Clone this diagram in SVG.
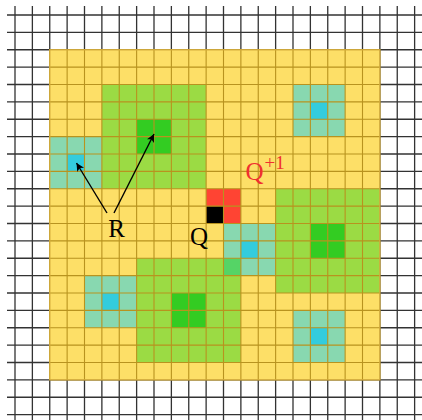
<svg xmlns="http://www.w3.org/2000/svg" width="422" height="420" viewBox="0 0 422 420">
<defs>
<style>
.gl{stroke:#333;stroke-width:1.3}
.il{stroke:#b8931f;stroke-width:1.1}
.y{fill:#fddf67}
.g{fill:#9bdb44}
.dg{fill:#33cc22}
.t{fill:#88d8b0}
.c{fill:#33ccdd}
.mg{fill:#55d466}
.r{fill:#ff4433}
.k{fill:#000}
.lbl{font-family:"Liberation Serif","Times New Roman",serif;font-size:25px}
.sup{font-size:19px}
.arr{stroke:#000;stroke-width:1.4;fill:none;marker-end:url(#ah)}
</style>
<marker id="ah" viewBox="0 0 10 10" refX="10" refY="5" markerWidth="10" markerHeight="8" markerUnits="userSpaceOnUse" orient="auto">
<path d="M0,0 L10,5 L0,10 L2.5,5 Z" fill="#000"/>
</marker>
</defs>
<rect width="422" height="420" fill="#fff"/>
<g id="grid">
<path class="gl" d="M15,6V420M32.375,6V420M49.75,6V420M67.125,6V420M84.5,6V420M101.875,6V420M119.25,6V420M136.625,6V420M154,6V420M171.375,6V420M188.75,6V420M206.125,6V420M223.5,6V420M240.875,6V420M258.25,6V420M275.625,6V420M293,6V420M310.375,6V420M327.75,6V420M345.125,6V420M362.5,6V420M379.875,6V420M397.25,6V420M414.625,6V420"/>
<path class="gl" d="M7,15H422M7,32.375H422M7,49.75H422M7,67.125H422M7,84.5H422M7,101.875H422M7,119.25H422M7,136.625H422M7,154H422M7,171.375H422M7,188.75H422M7,206.125H422M7,223.5H422M7,240.875H422M7,258.25H422M7,275.625H422M7,293H422M7,310.375H422M7,327.75H422M7,345.125H422M7,362.5H422M7,379.875H422M7,397.25H422M7,414.625H422"/>
</g>
<g id="region" transform="translate(15,15) scale(17.375)">
<rect class="y" x="2" y="2" width="19" height="19"/>
</g>
<g id="cluster-a" transform="translate(15,15) scale(17.375)">
<rect class="g" x="5" y="4" width="6" height="6"/>
<rect class="dg" x="7" y="6" width="2" height="2"/>
</g>
<g id="seed-left" transform="translate(15,15) scale(17.375)">
<rect class="t" x="2" y="7" width="3" height="3"/>
<rect class="c" x="3" y="8" width="1" height="1"/>
</g>
<g id="seed-top-right" transform="translate(15,15) scale(17.375)">
<rect class="t" x="16" y="4" width="3" height="3"/>
<rect class="c" x="17" y="5" width="1" height="1"/>
</g>
<g id="cluster-right" transform="translate(15,15) scale(17.375)">
<rect class="g" x="15" y="10" width="6" height="6"/>
<rect class="dg" x="17" y="12" width="2" height="2"/>
</g>
<g id="cluster-bottom" transform="translate(15,15) scale(17.375)">
<rect class="g" x="7" y="14" width="6" height="6"/>
<rect class="dg" x="9" y="16" width="2" height="2"/>
</g>
<g id="seed-center" transform="translate(15,15) scale(17.375)">
<rect class="t" x="12" y="12" width="3" height="3"/>
<rect class="c" x="13" y="13" width="1" height="1"/>
<rect class="mg" x="12" y="14" width="1" height="1"/>
</g>
<g id="seed-bottom-left" transform="translate(15,15) scale(17.375)">
<rect class="t" x="4" y="15" width="3" height="3"/>
<rect class="c" x="5" y="16" width="1" height="1"/>
</g>
<g id="seed-bottom-right" transform="translate(15,15) scale(17.375)">
<rect class="t" x="16" y="17" width="3" height="3"/>
<rect class="c" x="17" y="18" width="1" height="1"/>
</g>
<g id="q-next" transform="translate(15,15) scale(17.375)">
<rect class="r" x="11" y="10" width="2" height="2"/>
</g>
<g id="q-cell" transform="translate(15,15) scale(17.375)">
<rect class="k" x="11" y="11" width="1" height="1"/>
</g>
<g id="inner-grid">
<path class="il" d="M67.125,49.75V379.875M84.5,49.75V379.875M101.875,49.75V379.875M119.25,49.75V379.875M136.625,49.75V379.875M154,49.75V379.875M171.375,49.75V379.875M188.75,49.75V379.875M206.125,49.75V379.875M223.5,49.75V379.875M240.875,49.75V379.875M258.25,49.75V379.875M275.625,49.75V379.875M293,49.75V379.875M310.375,49.75V379.875M327.75,49.75V379.875M345.125,49.75V379.875M362.5,49.75V379.875"/>
<path class="il" d="M49.75,67.125H379.875M49.75,84.5H379.875M49.75,101.875H379.875M49.75,119.25H379.875M49.75,136.625H379.875M49.75,154H379.875M49.75,171.375H379.875M49.75,188.75H379.875M49.75,206.125H379.875M49.75,223.5H379.875M49.75,240.875H379.875M49.75,258.25H379.875M49.75,275.625H379.875M49.75,293H379.875M49.75,310.375H379.875M49.75,327.75H379.875M49.75,345.125H379.875M49.75,362.5H379.875"/>
<rect x="49.75" y="49.75" width="330.125" height="330.125" fill="none" stroke="#d2aa3a" stroke-width="1.4"/>
</g>
<g id="connectors">
<line class="arr" x1="107" y1="213" x2="76.5" y2="163"/>
<line class="arr" x1="114" y1="213" x2="154" y2="134"/>
</g>
<g id="label-r"><text class="lbl" x="116.7" y="237" text-anchor="middle">R</text></g>
<g id="label-q"><text class="lbl" x="199" y="245" text-anchor="middle">Q</text></g>
<g id="label-q1"><text class="lbl" x="245.5" y="180" fill="#f03030">Q<tspan class="sup" dx="1" dy="-11">+1</tspan></text></g>
</svg>
